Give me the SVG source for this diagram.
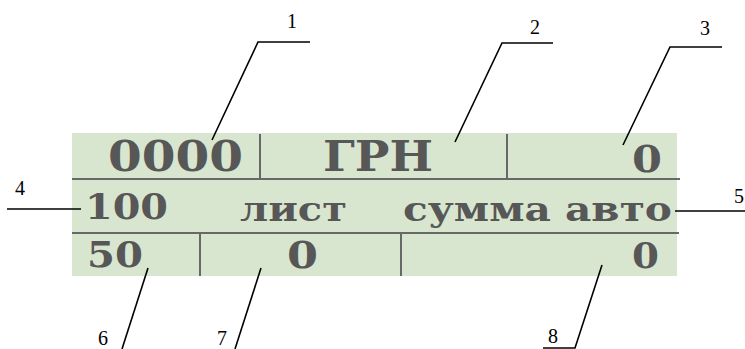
<svg xmlns="http://www.w3.org/2000/svg" width="745" height="349" viewBox="0 0 745 349">
<style>
.lbl{font-family:"Liberation Serif","Times New Roman",serif;font-size:20px;fill:#000;text-anchor:middle}
.lead{stroke:#000;stroke-width:1.6;fill:none}
.div{stroke:#686868;stroke-width:2;fill:none}
.big{font-family:"DejaVu Serif","Liberation Serif",serif;font-weight:bold;fill:#575757}
</style>
<rect width="745" height="349" fill="#fff"/>
<g id="panel">
<rect x="72" y="133" width="605" height="143" fill="#d9e6cf"/>
<line class="div" x1="72" y1="179" x2="680" y2="179"/>
<line class="div" x1="72" y1="233" x2="679" y2="233"/>
<line class="div" x1="260" y1="134" x2="260" y2="178"/>
<line class="div" x1="507" y1="134" x2="507" y2="178"/>
<line class="div" x1="200" y1="234" x2="200" y2="276"/>
<line class="div" x1="401" y1="234" x2="401" y2="276"/>
</g>
<g id="row1">
<text class="big" x="108" y="171" font-size="43" textLength="135" lengthAdjust="spacingAndGlyphs">0000</text>
<text class="big" x="323" y="171" font-size="43" textLength="110" lengthAdjust="spacingAndGlyphs">ГРН</text>
<text class="big" x="632" y="172" font-size="37" textLength="30" lengthAdjust="spacingAndGlyphs">0</text>
</g>
<g id="row2">
<text class="big" x="85" y="219" font-size="35" textLength="83" lengthAdjust="spacingAndGlyphs">100</text>
<text class="big" x="240" y="221" font-size="33" textLength="107" lengthAdjust="spacingAndGlyphs">лист</text>
<text class="big" x="403" y="221" font-size="33" textLength="269" lengthAdjust="spacingAndGlyphs">сумма авто</text>
</g>
<g id="row3">
<text class="big" x="87" y="267" font-size="35" textLength="56" lengthAdjust="spacingAndGlyphs">50</text>
<text class="big" x="287" y="268" font-size="37" textLength="31" lengthAdjust="spacingAndGlyphs">0</text>
<text class="big" x="632" y="268" font-size="36" textLength="27" lengthAdjust="spacingAndGlyphs">0</text>
</g>
<g id="connectors">
<polyline class="lead" points="212,140 258,42 310,42"/>
<polyline class="lead" points="455,142 502,43 553,43"/>
<polyline class="lead" points="623,145 670,47 722,47"/>
<line class="lead" x1="7" y1="209" x2="81" y2="209"/>
<line class="lead" x1="675" y1="211" x2="745" y2="211"/>
<line class="lead" x1="148" y1="268" x2="122" y2="349"/>
<line class="lead" x1="261" y1="268" x2="235" y2="349"/>
<polyline class="lead" points="602,265 575,348 543,348"/>
</g>
<g id="labels">
<text class="lbl" x="292" y="28">1</text>
<text class="lbl" x="535" y="34">2</text>
<text class="lbl" x="705" y="35">3</text>
<text class="lbl" x="20" y="195">4</text>
<text class="lbl" x="739" y="203">5</text>
<text class="lbl" x="103" y="345">6</text>
<text class="lbl" x="222" y="345">7</text>
<text class="lbl" x="553" y="343">8</text>
</g>
</svg>
